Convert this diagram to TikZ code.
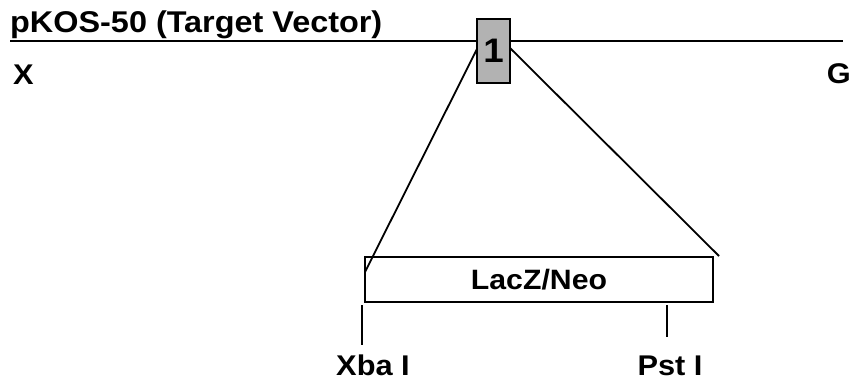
\documentclass[tikz,border=0pt]{standalone}
\usepackage{fontspec}
\setmainfont{Liberation Sans}[FakeStretch=1.08]
\begin{document}
\begin{tikzpicture}[x=1pt,y=-1pt,
  lbl/.style={font=\bfseries\fontsize{28.5}{28.5}\selectfont, inner sep=0pt, anchor=base west},
  ln/.style={line width=1.8pt, black}]
\useasboundingbox (0,0) rectangle (851,380);
\definecolor{boxgray}{RGB}{178,178,178}
% main vector line
\coordinate (L) at (10,41);
\coordinate (R) at (843,41);
\draw[line width=2pt] (L) -- (R);
\node[lbl, font=\bfseries\fontsize{30}{30}\selectfont] (title) at (10,32.5) {pKOS-50 (Target Vector)};
\node[lbl] (X) at (13,84) {X};
\node[lbl, anchor=base east] (G) at (851,83) {G};
% insert box 1
\node[draw, line width=1.8pt, fill=boxgray, minimum width=33pt, minimum height=64pt, inner sep=0pt,
  font=\bfseries\fontsize{34}{34}\selectfont] (one) at (493.5,51) {1};
% LacZ/Neo box
\node[draw, line width=1.8pt, minimum width=348pt, minimum height=45pt, inner sep=0pt,
  font=\bfseries\fontsize{28}{28}\selectfont] (lacz) at (539,279.5) {LacZ/Neo};
\coordinate (lt) at (477,49);
\coordinate (ll) at (365,272);
\coordinate (rt) at (510,48);
\coordinate (rr) at (719,256);
\draw[ln] (lt) -- (ll);
\draw[ln] (rt) -- (rr);
% restriction sites
\coordinate (xa) at (362,305);
\coordinate (xb) at (362,345);
\coordinate (pa) at (667,305);
\coordinate (pb) at (667,337);
\draw[ln] (xa) -- (xb);
\draw[ln] (pa) -- (pb);
\node[lbl, anchor=base, text depth=0pt] (xba) at (373,375) {Xba I};
\node[lbl, anchor=base, text depth=0pt] (pst) at (670,375) {Pst I};
\end{tikzpicture}
\end{document}
